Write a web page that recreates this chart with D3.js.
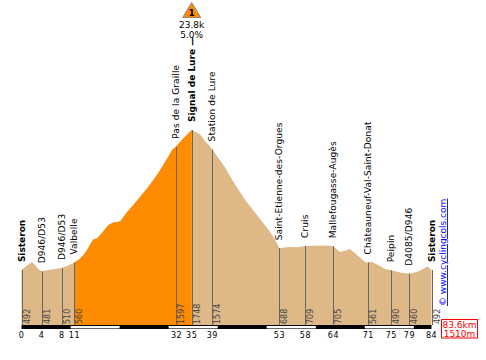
<!DOCTYPE html>
<html>
<head>
<meta charset="utf-8">
<script src="https://cdn.jsdelivr.net/npm/d3@7/dist/d3.min.js"></script>
<style>
  html, body { margin: 0; padding: 0; background: #fff; }
  svg { display: block; }
  text { font-family: "DejaVu Sans", sans-serif; }
</style>
</head>
<body>
<div id="chart"></div>
<script>
// Road profile
const profileKm = [0, 0.9, 2.1, 2.8, 3.4, 4.1, 5.8, 8.2, 9.5, 10.8, 11.9, 12.8, 13.6, 14.4, 14.8, 15.4, 16.4, 17.7, 18.7, 20.1,
  21.5, 22.8, 24.2, 25.6, 26.9, 27.9, 28.9, 29.9, 30.7, 31.6, 33.2, 34.7, 35.1, 36.4, 37.4, 38.2, 38.9, 41.2, 43.2, 45.6,
  48.0, 50.4, 51.7, 52.6, 54.4, 56.2, 57.9, 61.0, 62.6, 63.6, 64.4, 65.0, 66.0, 67.0, 68.4, 70.1, 70.7, 71.4, 73.1, 74.1,
  75.4, 77.2, 79.1, 80.9, 81.9, 82.8, 83.6]
const profileAlt = [492, 524, 565, 538, 502, 481, 495, 510, 533, 560, 591, 636, 690, 753, 771, 775, 824, 896, 918, 927,
  1010, 1075, 1150, 1223, 1299, 1362, 1434, 1505, 1568, 1604, 1680, 1748, 1738, 1709, 1649, 1613, 1574, 1434, 1284, 1120,
  986, 851, 762, 688, 699, 696, 709, 712, 711, 705, 672, 654, 668, 681, 627, 564, 561, 567, 529, 502,
  490, 470, 460, 479, 502, 524, 492]

// Places along the route
const placeNames = ['Sisteron', 'D946/D53', 'D946/D53', 'Valbelle', 'Pas de la Graille', 'Signal de Lure —', 'Station de Lure',
  'Saint-Etienne-des-Orgues', 'Cruis', 'Mallefougasse-Augès', 'Châteauneuf-Val-Saint-Donat', 'Peipin', 'D4085/D946', 'Sisteron']
const placeKm = [0, 4.1, 8.2, 10.8, 31.6, 34.7, 38.9, 52.6, 57.9, 63.6, 70.7, 75.4, 79.1, 83.6]
const placeAlt = [492, 481, 510, 560, 1597, 1748, 1574, 688, 709, 705, 561, 490, 460, 492]
const placeTicks = ['0', '4', '8', '11', '32', '35', '39', '53', '58', '64', '71', '75', '79', '84']
const boldPlaces = ['Sisteron', 'Signal de Lure —']

const climbRange = [10.8, 34.7]
const stripeStarts = [10, 30, 50, 70] // white stretches of the km bar, 10 km each
const climbInfo = ['23.8k', '5.0%']
const totals = ['83.6km', '1510m']

const width = 486
const height = 360
const tanColor = '#DEB887'
const orangeColor = '#FF8C00'
const lineColor = '#666'

const x = d3.scaleLinear().domain([0, 83.6]).range([21.5, 431.5])
const y = d3.scaleLinear().domain([0, 1748]).range([325, 130])

const svg = d3.select('#chart').append('svg')
  .attr('width', width)
  .attr('height', height)

const profile = profileKm.map((km, i) => ({km: km, alt: profileAlt[i]}))

const area = d3.area()
  .x((d) => x(d.km))
  .y0(y(0))
  .y1((d) => y(d.alt))

// Whole profile, then the climb on top of it
svg.append('path')
  .attr('d', area(profile))
  .attr('fill', tanColor)

svg.append('path')
  .attr('d', area(profile.filter((d) => d.km >= climbRange[0] && d.km <= climbRange[1])))
  .attr('fill', orangeColor)

// Km bar
svg.append('rect')
  .attr('x', x(0))
  .attr('y', 325)
  .attr('width', x(83.6) - x(0))
  .attr('height', 4)
  .attr('fill', '#000')

svg.selectAll('.stripe')
  .data(stripeStarts)
  .enter().append('rect')
    .attr('class', 'stripe')
    .attr('x', (d) => x(d))
    .attr('y', 326)
    .attr('width', (d) => x(d + 10) - x(d))
    .attr('height', 2.4)
    .attr('fill', '#fff')

const places = placeNames.map((name, i) => ({name: name, km: placeKm[i], alt: placeAlt[i], tick: placeTicks[i]}))

// Place markers
svg.selectAll('.marker')
  .data(places)
  .enter().append('line')
    .attr('class', 'marker')
    .attr('x1', (d) => Math.round(x(d.km)) + 0.5)
    .attr('x2', (d) => Math.round(x(d.km)) + 0.5)
    .attr('y1', (d) => y(d.alt))
    .attr('y2', 325)
    .attr('stroke', lineColor)
    .attr('stroke-width', 1)

// Place names, rotated
svg.selectAll('.name')
  .data(places)
  .enter().append('text')
    .attr('class', 'name')
    .attr('transform', (d) => `translate(${x(d.km) + 3},${y(d.alt) - 8}) rotate(-90)`)
    .attr('font-size', 9)
    .attr('font-weight', (d) => boldPlaces.includes(d.name) ? 'bold' : 'normal')
    .attr('letter-spacing', (d) => boldPlaces.includes(d.name) ? 0 : 0.1)
    .attr('fill', '#000')
    .text((d) => d.name)

// Altitudes, rotated
svg.selectAll('.alt')
  .data(places)
  .enter().append('text')
    .attr('class', 'alt')
    .attr('transform', (d) => `translate(${x(d.km) + 8},324) rotate(-90)`)
    .attr('font-size', 8)
    .attr('fill', '#444')
    .text((d) => d.alt)

// Km ticks
svg.selectAll('.tick')
  .data(places)
  .enter().append('text')
    .attr('class', 'tick')
    .attr('x', (d) => x(d.km))
    .attr('y', 338)
    .attr('font-size', 8)
    .attr('letter-spacing', 0.5)
    .attr('text-anchor', 'middle')
    .attr('fill', '#000')
    .text((d) => d.tick)

// Climb badge
const badgeX = x(climbRange[1])
svg.append('path')
  .attr('d', d3.line()([[badgeX, 2.5], [badgeX + 9, 17.5], [badgeX - 9, 17.5]]) + 'Z')
  .attr('fill', orangeColor)
  .attr('stroke', '#888')
  .attr('stroke-width', 1)

svg.append('text')
  .attr('x', badgeX)
  .attr('y', 16)
  .attr('font-size', 9)
  .attr('font-weight', 'bold')
  .attr('text-anchor', 'middle')
  .text('1')

svg.selectAll('.climb')
  .data(climbInfo)
  .enter().append('text')
    .attr('class', 'climb')
    .attr('x', badgeX)
    .attr('y', (d, i) => 28 + i * 10)
    .attr('font-size', 9)
    .attr('text-anchor', 'middle')
    .text((d) => d)

// Site link
svg.append('text')
  .attr('transform', 'translate(446,306) rotate(-90)')
  .attr('font-size', 9)
  .attr('fill', '#00f')
  .attr('text-decoration', 'underline')
  .text('© www.cyclingcols.com')

// Totals box
svg.append('rect')
  .attr('x', 441.5)
  .attr('y', 319.5)
  .attr('width', 36)
  .attr('height', 18.5)
  .attr('fill', '#fff')
  .attr('stroke', '#f00')

svg.selectAll('.total')
  .data(totals)
  .enter().append('text')
    .attr('class', 'total')
    .attr('x', 459.5)
    .attr('y', (d, i) => 327.5 + i * 9)
    .attr('font-size', 9)
    .attr('text-anchor', 'middle')
    .attr('fill', '#f00')
    .text((d) => d)
</script>
</body>
</html>
